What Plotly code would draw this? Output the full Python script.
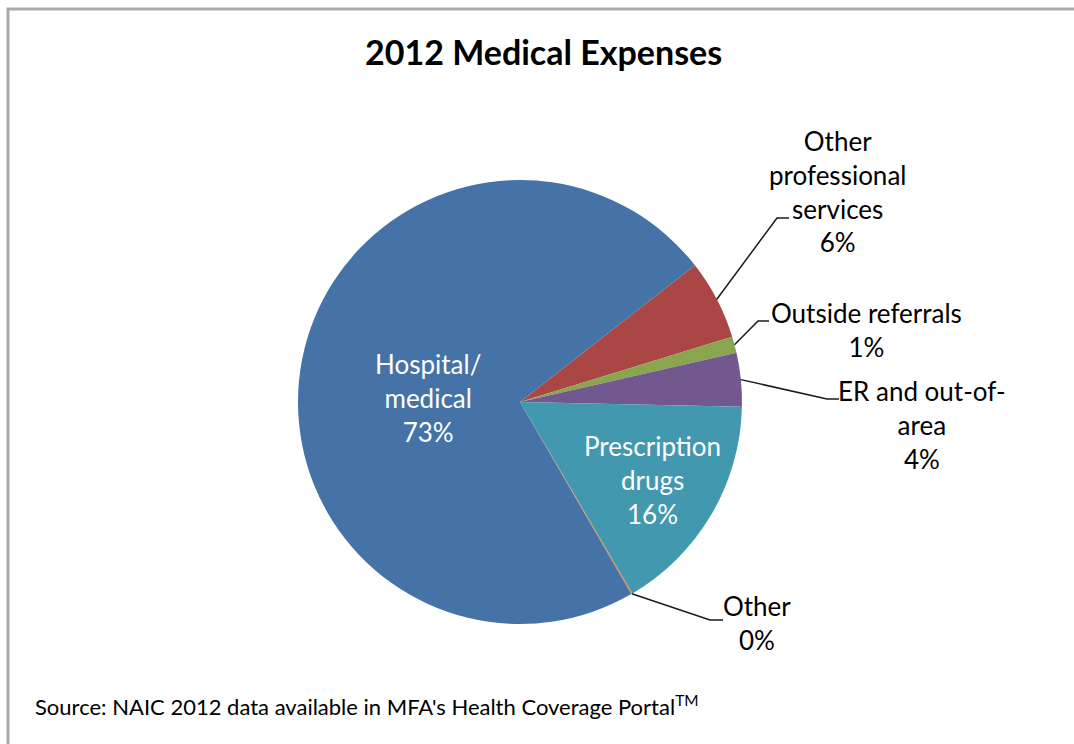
import math
import plotly.graph_objects as go

# ---- data ----
categories = ["Other professional services", "Outside referrals", "ER and out-of-area",
              "Prescription drugs", "Other", "Hospital/ medical"]
label_lines = ["Other<br>professional<br>services", "Outside referrals", "ER and out-of-<br>area",
               "Prescription<br>drugs", "Other", "Hospital/<br>medical"]
values = [5.8, 1.2, 3.9, 16.2, 0.1, 72.8]
colors = ["#AA4643", "#89A54E", "#71588F", "#4198AF", "#DB843D", "#4572A7"]

W, H = 1074, 744
CX, CY, R = 520, 402, 222
ROT = 52
FONT = "Lato"

fig = go.Figure(go.Pie(
    labels=categories, values=values, sort=False, direction="clockwise",
    rotation=ROT, marker=dict(colors=colors, line=dict(width=0)),
    textinfo="none", hoverinfo="label+percent", showlegend=False,
    domain=dict(x=[(CX - R) / W, (CX + R) / W], y=[1 - (CY + R) / H, 1 - (CY - R) / H]),
))

total = sum(values)
def px2paper(x, y):
    return x / W, 1 - y / H

mids = []
cum = 0
for v in values:
    start = ROT + 360 * cum / total
    mids.append(start + 180 * v / total)
    cum += v

def pt(angle, frac):
    a = math.radians(angle)
    return CX + frac * R * math.sin(a), CY - frac * R * math.cos(a)

pct = [f"{round(v / total * 100)}%" for v in values]

annotations = []
shapes = []
# outside labels: (index, text center px, elbow px, end px)
outside = {
    0: ((837, 191), (777, 218), (789, 218)),
    1: ((866, 330), (758, 321), (769, 321)),
    2: ((922, 425), (827, 399), (839, 399)),
    4: ((757, 623), (710, 620), (723, 620)),
}
for i, (tc, elbow, end) in outside.items():
    sx, sy = pt(mids[i], 1.0)
    p0 = px2paper(sx, sy); p1 = px2paper(*elbow); p2 = px2paper(*end)
    shapes.append(dict(type="path", xref="paper", yref="paper",
                       path=f"M {p0[0]},{p0[1]} L {p1[0]},{p1[1]} L {p2[0]},{p2[1]}",
                       line=dict(color="#1a1a1a", width=1.5)))
    x, y = px2paper(*tc)
    annotations.append(dict(x=x, y=y, xref="paper", yref="paper", showarrow=False,
                            xanchor="center", yanchor="middle",
                            text=f"{label_lines[i]}<br>{pct[i]}", align="center",
                            font=dict(family=FONT, size=26, color="#000000")))

# inside labels
for i, frac, ysh in ((5, 0.42, -14), (3, 0.69, 0)):
    lx, ly = pt(mids[i], frac)
    x, y = px2paper(lx, ly)
    annotations.append(dict(x=x, y=y, xref="paper", yref="paper", showarrow=False,
                            xanchor="center", yanchor="middle", yshift=ysh,
                            text=f"{label_lines[i]}<br>{pct[i]}", align="center",
                            font=dict(family=FONT, size=26, color="#FFFFFF")))

# title and source
annotations.append(dict(x=543 / W, y=1 - 52 / H, xref="paper", yref="paper", showarrow=False,
                        xanchor="center", yanchor="middle",
                        text="<b>2012 Medical Expenses</b>",
                        font=dict(family=FONT, size=34, color="#000000")))
annotations.append(dict(x=33 / W, y=1 - 705 / H, xref="paper", yref="paper", showarrow=False,
                        xanchor="left", yanchor="middle",
                        text="Source: NAIC 2012 data available in MFA's Health Coverage Portal<sup>TM</sup>",
                        font=dict(family=FONT, size=22, color="#000000")))

# chart frame
shapes.append(dict(type="rect", xref="paper", yref="paper",
                   x0=8 / W, x1=1.02, y0=-0.02, y1=1 - 9 / H,
                   line=dict(color="#ABABAB", width=3), fillcolor="rgba(0,0,0,0)"))

fig.update_layout(width=W, height=H, margin=dict(l=0, r=0, t=0, b=0),
                  paper_bgcolor="white", plot_bgcolor="white",
                  annotations=annotations, shapes=shapes)
fig.write_html("out.html")
